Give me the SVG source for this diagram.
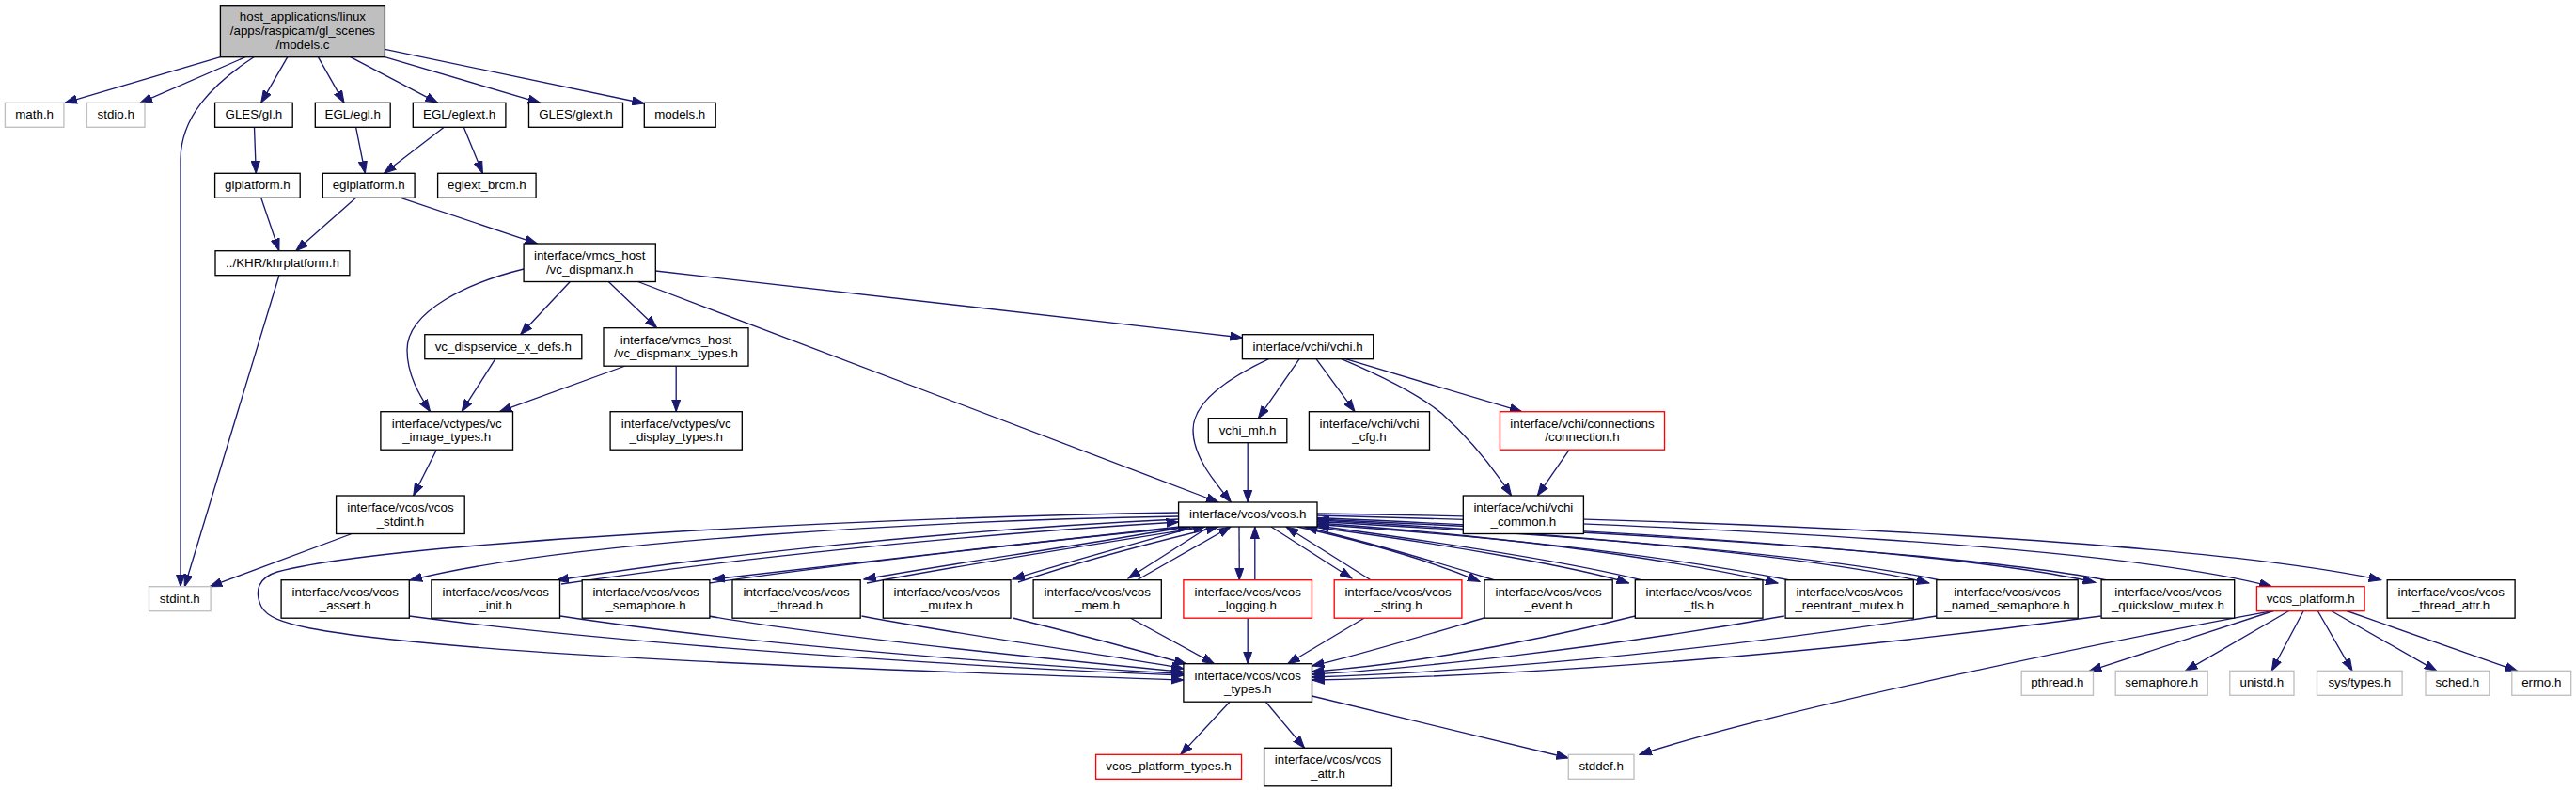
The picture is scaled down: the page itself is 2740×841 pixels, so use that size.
<svg xmlns="http://www.w3.org/2000/svg" width="2740" height="841" viewBox="0 0 2740 841">
<style>
text{font-family:"Liberation Sans",Arial,Helvetica,sans-serif;font-size:13.33px;text-anchor:middle;fill:#000}
.b{fill:#fff;stroke:#000;stroke-width:1.33}
.g{fill:#fff;stroke:#bfbfbf;stroke-width:1.33}
.r{fill:#fff;stroke:#ff0000;stroke-width:1.33}
.t{fill:#bfbfbf;stroke:#000;stroke-width:1.33}
#edges path{fill:none;stroke:#191970;stroke-width:1.33;marker-end:url(#a)}
</style>
<defs>
<marker id="a" markerUnits="userSpaceOnUse" markerWidth="14" markerHeight="10" refX="13" refY="5" orient="auto" viewBox="0 0 14 10">
<path d="M0,0.4 L13,5 L0,9.6 z" fill="#191970" stroke="#191970" stroke-width="1"/>
</marker>
</defs>
<rect width="2740" height="841" fill="#fff"/>
<g id="edges">
<path d="M234.4,60.7 L69,109.3"/>
<path d="M261,60.7 L149,109.3"/>
<path d="M270,60.7 C225,90 192,125 192,170 L192,623.7"/>
<path d="M305.8,60.7 L277.7,109.3"/>
<path d="M338.4,60.7 L366,109.3"/>
<path d="M372.8,60.7 L465.6,109.3"/>
<path d="M409.4,60.7 L574.6,109.3"/>
<path d="M409.4,52.3 L685.3,110"/>
<path d="M270.5,135.3 L272.3,184.3"/>
<path d="M378.6,135.3 L388.4,184.3"/>
<path d="M472.3,135.3 L408.5,184.3"/>
<path d="M493.3,135.3 L513.4,184.3"/>
<path d="M277.7,210.3 L296.9,266.7"/>
<path d="M378.6,210.3 L314.7,266.7"/>
<path d="M426.3,210.3 L571.4,259"/>
<path d="M296.9,292.7 L196.4,623.7"/>
<path d="M557.1,286 C500,300 433,330 433,372 C433,398 446,420 457.6,437.7"/>
<path d="M606.3,299.5 L553.6,355.7"/>
<path d="M647.3,299.5 L698.7,348.7"/>
<path d="M697.3,288 L1321.4,359"/>
<path d="M678.6,299.5 L1296,534"/>
<path d="M526.8,381.7 L491.1,437.7"/>
<path d="M665.2,389 L531.3,437.7"/>
<path d="M719.2,389 L719.2,437.7"/>
<path d="M464.3,478.2 L439.7,527"/>
<path d="M374.1,567.5 L223.2,623.7"/>
<path d="M1349.5,381.7 C1300,405 1269,430 1269,457 C1269,485 1290,510 1309.4,534"/>
<path d="M1382.1,381.7 L1338.4,444.7"/>
<path d="M1327.2,470.7 L1327.2,534"/>
<path d="M1400,381.7 L1441.1,437.7"/>
<path d="M1426.8,381.7 C1470,400 1510,420 1534,440 C1565,468 1590,500 1607.6,527"/>
<path d="M1431.3,381.7 L1618.8,437.7"/>
<path d="M1669.2,478.2 L1635.3,527"/>
<path d="M1253.6,545 C950,550 420,575 295,608 C275,614 270,628 278,645 C284,656 300,662 330,668 C500,700 1050,716 1258.9,723"/>
<path d="M1253.6,549 C1000,553 600,575 436,617"/>
<path d="M1253.6,552 C1000,564 750,592 592,617"/>
<path d="M597,621 C760,597 1000,570 1253.6,555"/>
<path d="M1255,560 C1100,576 900,600 758,616"/>
<path d="M754,620 C900,599 1120,574 1266,560"/>
<path d="M1262,560 C1150,580 1000,601 918.8,616"/>
<path d="M922,620 C1020,601 1180,576 1282,560"/>
<path d="M1272,560 C1200,580 1130,599 1077,616"/>
<path d="M1083,619 C1140,600 1220,578 1296,560"/>
<path d="M1286,560 L1200,615"/>
<path d="M1209,617 L1309,560"/>
<path d="M1318,560 L1318.3,616.7"/>
<path d="M1334.8,616.7 L1334.8,560"/>
<path d="M1352,560 L1437.9,615"/>
<path d="M1458,616.7 L1368,560"/>
<path d="M1380,560 C1470,580 1530,600 1574,618.3"/>
<path d="M1590,617 C1530,598 1460,578 1388,560"/>
<path d="M1395,560 C1550,580 1680,604 1732.6,620"/>
<path d="M1747,617 C1680,600 1550,579 1401,559"/>
<path d="M1401,556 C1650,574 1800,600 1891,620"/>
<path d="M1904,617 C1800,596 1650,575 1401,557.5"/>
<path d="M1401,553 C1700,569 1950,595 2051.8,620"/>
<path d="M2064,617 C1950,592 1700,571 1401,554.5"/>
<path d="M1401,550.5 C1800,568 2100,590 2228.6,619.3"/>
<path d="M2240,616.7 C2100,590 1800,570 1401,552"/>
<path d="M1401,548 C1800,558 2250,580 2416.3,623.7"/>
<path d="M1401,546 C1900,553 2350,578 2532.7,616.7"/>
<path d="M435.3,655 C700,690 1100,712 1258.9,718"/>
<path d="M596,655 C800,686 1100,708 1258.9,716.5"/>
<path d="M753.6,655 C900,680 1150,704 1258.9,714.5"/>
<path d="M916.5,655 C1050,680 1200,699 1258.9,711"/>
<path d="M1077.2,657 C1150,675 1220,694 1262,706"/>
<path d="M1202.2,657 L1291.5,705.7"/>
<path d="M1327.2,657 L1327.2,705.7"/>
<path d="M1451.3,657 L1369.6,705.7"/>
<path d="M1578.6,657 C1500,680 1440,698 1395.5,708"/>
<path d="M1739.3,655 C1600,690 1470,709 1395.5,714"/>
<path d="M1897.8,655 C1700,690 1500,711 1395.5,717"/>
<path d="M2059.8,655 C1800,695 1550,715 1395.5,720"/>
<path d="M2234.7,655 C1900,700 1600,719 1395.5,723"/>
<path d="M2418,649.3 C2250,680 1900,752 1743.8,802.3"/>
<path d="M1395.5,740 L1668.3,806"/>
<path d="M1308,746.2 L1255.8,802.3"/>
<path d="M1346.4,746.2 L1387.5,795.3"/>
<path d="M2418.4,649.5 L2222.4,713.3"/>
<path d="M2434.7,649.5 L2324.5,713.3"/>
<path d="M2450.2,649.5 L2416.3,713.3"/>
<path d="M2465.3,649.5 L2502,713.3"/>
<path d="M2479.6,649.5 L2591.8,713.3"/>
<path d="M2496,649.5 L2677.6,713.3"/>
</g>
<g id="n_top"><rect class="t" x="234.4" y="5.7" width="175" height="55"/><text x="321.9" y="22.3">host_applications/linux</text><text x="321.9" y="37">/apps/raspicam/gl_scenes</text><text x="321.9" y="51.7">/models.c</text></g>
<g id="n_math"><rect class="g" x="5.4" y="109.3" width="62.5" height="26"/><text x="36.65" y="126.3">math.h</text></g>
<g id="n_stdio"><rect class="g" x="92.4" y="109.3" width="61.6" height="26"/><text x="123.2" y="126.3">stdio.h</text></g>
<g id="n_glesgl"><rect class="b" x="228.6" y="109.3" width="82.6" height="26"/><text x="269.9" y="126.3">GLES/gl.h</text></g>
<g id="n_eglegl"><rect class="b" x="335.3" y="109.3" width="79.9" height="26"/><text x="375.25" y="126.3">EGL/egl.h</text></g>
<g id="n_eglext"><rect class="b" x="439.3" y="109.3" width="98.6" height="26"/><text x="488.6" y="126.3">EGL/eglext.h</text></g>
<g id="n_glesglext"><rect class="b" x="562.5" y="109.3" width="100" height="26"/><text x="612.5" y="126.3">GLES/glext.h</text></g>
<g id="n_models"><rect class="b" x="685.3" y="109.3" width="75.9" height="26"/><text x="723.25" y="126.3">models.h</text></g>
<g id="n_glplatform"><rect class="b" x="228.6" y="184.3" width="90.6" height="26"/><text x="273.9" y="201.3">glplatform.h</text></g>
<g id="n_eglplatform"><rect class="b" x="343.3" y="184.3" width="97.8" height="26"/><text x="392.2" y="201.3">eglplatform.h</text></g>
<g id="n_eglext_brcm"><rect class="b" x="465.6" y="184.3" width="104.5" height="26"/><text x="517.85" y="201.3">eglext_brcm.h</text></g>
<g id="n_khrplatform"><rect class="b" x="229" y="266.7" width="142.9" height="26"/><text x="300.45" y="283.7">../KHR/khrplatform.h</text></g>
<g id="n_vc_dispmanx"><rect class="b" x="557.1" y="259" width="140.2" height="40.5"/><text x="627.2" y="275.8">interface/vmcs_host</text><text x="627.2" y="290.5">/vc_dispmanx.h</text></g>
<g id="n_vc_dispservice"><rect class="b" x="451.8" y="355.7" width="167" height="26"/><text x="535.3" y="372.7">vc_dispservice_x_defs.h</text></g>
<g id="n_vc_dispmanx_types"><rect class="b" x="642" y="348.7" width="154" height="40.5"/><text x="719" y="365.5">interface/vmcs_host</text><text x="719" y="380.2">/vc_dispmanx_types.h</text></g>
<g id="n_vchi"><rect class="b" x="1321.4" y="355.7" width="139.3" height="26"/><text x="1391.05" y="372.7">interface/vchi/vchi.h</text></g>
<g id="n_vc_image_types"><rect class="b" x="404.9" y="437.7" width="140.6" height="40.5"/><text x="475.2" y="454.5">interface/vctypes/vc</text><text x="475.2" y="469.2">_image_types.h</text></g>
<g id="n_vc_display_types"><rect class="b" x="649.1" y="437.7" width="140.2" height="40.5"/><text x="719.2" y="454.5">interface/vctypes/vc</text><text x="719.2" y="469.2">_display_types.h</text></g>
<g id="n_vchi_mh"><rect class="b" x="1285.3" y="444.7" width="83.5" height="26"/><text x="1327.05" y="461.7">vchi_mh.h</text></g>
<g id="n_vchi_cfg"><rect class="b" x="1392.4" y="437.7" width="128.1" height="40.5"/><text x="1456.45" y="454.5">interface/vchi/vchi</text><text x="1456.45" y="469.2">_cfg.h</text></g>
<g id="n_connection"><rect class="r" x="1595.5" y="437.7" width="175" height="40.5"/><text x="1683" y="454.5">interface/vchi/connections</text><text x="1683" y="469.2">/connection.h</text></g>
<g id="n_vcos_stdint"><rect class="b" x="357.6" y="527" width="136.6" height="40.5"/><text x="425.9" y="543.8">interface/vcos/vcos</text><text x="425.9" y="558.5">_stdint.h</text></g>
<g id="n_vchi_common"><rect class="b" x="1556.3" y="527" width="128.1" height="40.5"/><text x="1620.35" y="543.8">interface/vchi/vchi</text><text x="1620.35" y="558.5">_common.h</text></g>
<g id="n_vcos"><rect class="b" x="1253.6" y="534" width="147.4" height="26"/><text x="1327.3" y="551">interface/vcos/vcos.h</text></g>
<g id="n_stdint"><rect class="g" x="158.5" y="623.7" width="65.6" height="26"/><text x="191.3" y="640.7">stdint.h</text></g>
<g id="n_assert"><rect class="b" x="299.1" y="616.7" width="136.2" height="40.5"/><text x="367.2" y="633.5">interface/vcos/vcos</text><text x="367.2" y="648.2">_assert.h</text></g>
<g id="n_init"><rect class="b" x="458.9" y="616.7" width="136.6" height="40.5"/><text x="527.2" y="633.5">interface/vcos/vcos</text><text x="527.2" y="648.2">_init.h</text></g>
<g id="n_semaphore"><rect class="b" x="619.2" y="616.7" width="135.7" height="40.5"/><text x="687.05" y="633.5">interface/vcos/vcos</text><text x="687.05" y="648.2">_semaphore.h</text></g>
<g id="n_thread"><rect class="b" x="779" y="616.7" width="136.2" height="40.5"/><text x="847.1" y="633.5">interface/vcos/vcos</text><text x="847.1" y="648.2">_thread.h</text></g>
<g id="n_mutex"><rect class="b" x="939.3" y="616.7" width="135.7" height="40.5"/><text x="1007.15" y="633.5">interface/vcos/vcos</text><text x="1007.15" y="648.2">_mutex.h</text></g>
<g id="n_mem"><rect class="b" x="1099.1" y="616.7" width="136.2" height="40.5"/><text x="1167.2" y="633.5">interface/vcos/vcos</text><text x="1167.2" y="648.2">_mem.h</text></g>
<g id="n_logging"><rect class="r" x="1258.9" y="616.7" width="136.6" height="40.5"/><text x="1327.2" y="633.5">interface/vcos/vcos</text><text x="1327.2" y="648.2">_logging.h</text></g>
<g id="n_string"><rect class="r" x="1419.2" y="616.7" width="135.7" height="40.5"/><text x="1487.05" y="633.5">interface/vcos/vcos</text><text x="1487.05" y="648.2">_string.h</text></g>
<g id="n_event"><rect class="b" x="1579" y="616.7" width="136.2" height="40.5"/><text x="1647.1" y="633.5">interface/vcos/vcos</text><text x="1647.1" y="648.2">_event.h</text></g>
<g id="n_tls"><rect class="b" x="1739.3" y="616.7" width="135.7" height="40.5"/><text x="1807.15" y="633.5">interface/vcos/vcos</text><text x="1807.15" y="648.2">_tls.h</text></g>
<g id="n_reentrant"><rect class="b" x="1899.1" y="616.7" width="136.2" height="40.5"/><text x="1967.2" y="633.5">interface/vcos/vcos</text><text x="1967.2" y="648.2">_reentrant_mutex.h</text></g>
<g id="n_named"><rect class="b" x="2059.8" y="616.7" width="150.4" height="40.5"/><text x="2135" y="633.5">interface/vcos/vcos</text><text x="2135" y="648.2">_named_semaphore.h</text></g>
<g id="n_quickslow"><rect class="b" x="2235.1" y="616.7" width="141.6" height="40.5"/><text x="2305.9" y="633.5">interface/vcos/vcos</text><text x="2305.9" y="648.2">_quickslow_mutex.h</text></g>
<g id="n_vcos_platform"><rect class="r" x="2400.4" y="623.7" width="114.7" height="26"/><text x="2457.75" y="640.7">vcos_platform.h</text></g>
<g id="n_thread_attr"><rect class="b" x="2539.2" y="616.7" width="135.9" height="40.5"/><text x="2607.15" y="633.5">interface/vcos/vcos</text><text x="2607.15" y="648.2">_thread_attr.h</text></g>
<g id="n_pthread"><rect class="g" x="2150.2" y="713.3" width="76.3" height="26"/><text x="2188.35" y="730.3">pthread.h</text></g>
<g id="n_semaphore_h"><rect class="g" x="2250.2" y="713.3" width="98" height="26"/><text x="2299.2" y="730.3">semaphore.h</text></g>
<g id="n_unistd"><rect class="g" x="2371.8" y="713.3" width="68.2" height="26"/><text x="2405.9" y="730.3">unistd.h</text></g>
<g id="n_systypes"><rect class="g" x="2464.5" y="713.3" width="90.6" height="26"/><text x="2509.8" y="730.3">sys/types.h</text></g>
<g id="n_sched"><rect class="g" x="2580" y="713.3" width="67.8" height="26"/><text x="2613.9" y="730.3">sched.h</text></g>
<g id="n_errno"><rect class="g" x="2671.8" y="713.3" width="62.9" height="26"/><text x="2703.25" y="730.3">errno.h</text></g>
<g id="n_vcos_types"><rect class="b" x="1258.9" y="705.7" width="136.6" height="40.5"/><text x="1327.2" y="722.5">interface/vcos/vcos</text><text x="1327.2" y="737.2">_types.h</text></g>
<g id="n_vcos_platform_types"><rect class="r" x="1165.6" y="802.3" width="154.9" height="26"/><text x="1243.05" y="819.3">vcos_platform_types.h</text></g>
<g id="n_vcos_attr"><rect class="b" x="1344.6" y="795.3" width="135.8" height="40.5"/><text x="1412.5" y="812.1">interface/vcos/vcos</text><text x="1412.5" y="826.8">_attr.h</text></g>
<g id="n_stddef"><rect class="g" x="1668.3" y="802.3" width="69.7" height="26"/><text x="1703.15" y="819.3">stddef.h</text></g>
</svg>
